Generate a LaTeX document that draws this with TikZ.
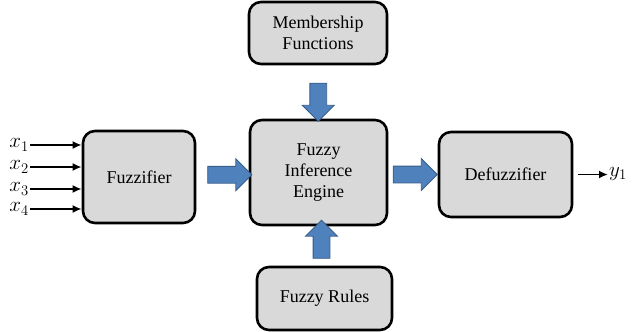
\documentclass[tikz,border=0pt]{standalone}
\usepackage{fix-cm}
\usepackage{fontspec}
\setmainfont{Liberation Serif}
\usetikzlibrary{arrows.meta,positioning,calc,shapes.arrows}
\definecolor{boxgrey}{RGB}{217,217,217}
\definecolor{arrowblue}{RGB}{79,129,189}
\definecolor{arrowedge}{RGB}{56,93,138}
\tikzset{
  base/.style={font=\fontsize{18}{21}\selectfont, align=center, inner sep=3pt, text=black},
  box/.style={base, rectangle, rounded corners=12pt, draw=black, fill=boxgrey, line width=2.6pt},
  arr/.style={-{Latex[length=9pt,width=8pt]}, line width=1.8pt},
  fat/.style={single arrow, draw=arrowedge, fill=arrowblue, line width=0.8pt, minimum height=38pt, single arrow head extend=7.5pt, single arrow head indent=0pt, inner xsep=0pt, inner ysep=8pt},
  lbl/.style={font=\fontsize{21}{24}\selectfont, inner sep=1pt},
}

\begin{document}
\begin{tikzpicture}[x=1pt,y=-1pt]
  \useasboundingbox (0,0) rectangle (640,332);
  % blocks
  \node[box,minimum width=112pt,minimum height=92pt] (fuzz) at (139,177) {Fuzzifier};
  \node[box,minimum width=137pt,minimum height=105pt] (engine) at (318.5,172.5) {Fuzzy\\Inference\\Engine};
  \node[box,minimum width=138pt,minimum height=62pt] (mf) at (318,33) {Membership\\Functions};
  \node[box,minimum width=135pt,minimum height=63pt] (rules) at (324.5,298.5) {Fuzzy Rules};
  \node[box,minimum width=133pt,minimum height=85pt] (defuzz) at (505.5,174.5) {Defuzzifier};
  % block arrows
  \node[fat,minimum height=44pt] (f2e) at ($(fuzz.east)!0.5!(engine.west)$) [xshift=3pt] {};
  \node[fat,minimum height=44pt] (e2d) at ($(engine.east)!0.5!(defuzz.west)$) [xshift=-2pt,yshift=-1pt] {};
  \node[fat,rotate=-90] (m2e) at ($(mf.south)!0.5!(engine.north)$) [xshift=6pt] {};
  \node[fat,rotate=90] (r2e) at ($(rules.north)!0.5!(engine.south)$) [xshift=2.5pt] {};
  % inputs
  \foreach \i/\y in {1/145,2/167,3/189,4/209}{
    \node[lbl,anchor=east] (x\i) at (30,\y) {$x_\i$};
    \draw[arr] (x\i.east) -- (x\i.east -| fuzz.west);
  }
  % output
  \node[lbl,anchor=west] (y1) at (608,174) {$y_1$};
  \draw[arr,shorten <=5pt] (defuzz.east) -- (defuzz.east -| y1.west);
\end{tikzpicture}
\end{document}
